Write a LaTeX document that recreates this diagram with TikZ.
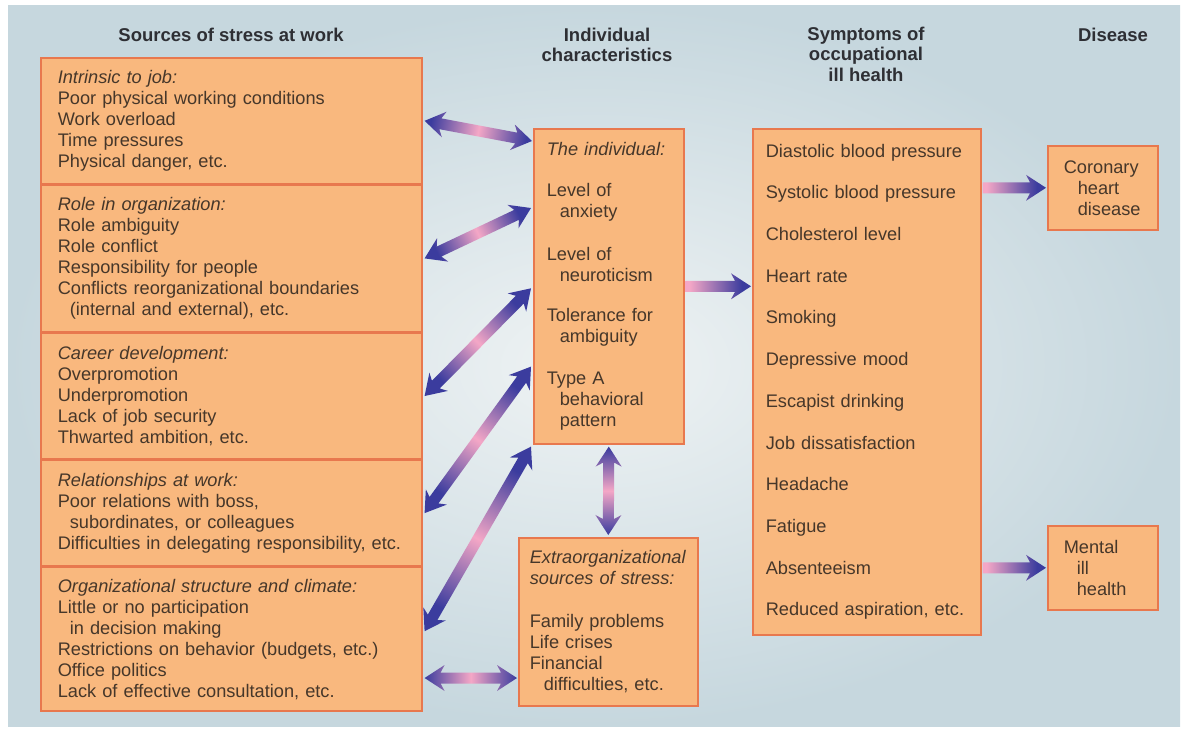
\documentclass[tikz,border=0pt]{standalone}
\usepackage{fontspec}
\setmainfont{Liberation Sans}
\usetikzlibrary{calc,positioning}
\definecolor{boxfill}{HTML}{F9B87E}
\definecolor{boxline}{HTML}{E8784E}
\definecolor{txt}{HTML}{46372A}
\definecolor{hdr}{HTML}{2E2F34}
\definecolor{bgout}{HTML}{C6D7DE}
\definecolor{bgin}{HTML}{EFF3F4}
\definecolor{arrblue}{HTML}{3B3C9E}
\definecolor{arrpink}{HTML}{F4A7C6}
\pgfdeclarehorizontalshading{dblshade}{100bp}{color(0bp)=(arrblue); color(25bp)=(arrblue); color(50bp)=(arrpink); color(75bp)=(arrblue); color(100bp)=(arrblue)}
\pgfdeclarehorizontalshading{sglshade}{100bp}{color(0bp)=(arrpink); color(28bp)=(arrpink); color(68bp)=(arrblue); color(100bp)=(arrblue)}
\tikzset{%
  srcbox/.style = {draw=boxline, fill=boxfill, line width=1.6pt, text=txt,
    align=left, inner xsep=17pt, inner ysep=0pt, text width=347pt,
    minimum width=381pt},
  colbox/.style = {draw=boxline, fill=boxfill, line width=1.6pt, text=txt,
    align=left, inner ysep=0pt, anchor=north west},
  heading/.style = {font=\fontsize{18.5}{20.5}\selectfont\bfseries, text=hdr,
    align=center, inner sep=0pt},
}
% shaded arrow with heads on both ends
\newcommand{\bothways}[2]{%
  \pgfmathanglebetweenpoints{\pgfpointanchor{#1}{center}}{\pgfpointanchor{#2}{center}}%
  \let\arrang\pgfmathresult
  \shade[shading=dblshade, shading angle=\arrang] (#1)
    -- ($(#1)!20pt!(#2)!13pt!90:(#2)$) -- ($(#1)!16pt!(#2)!5.5pt!90:(#2)$)
    -- ($(#2)!16pt!(#1)!5.5pt!-90:(#1)$) -- ($(#2)!20pt!(#1)!13pt!-90:(#1)$)
    -- (#2)
    -- ($(#2)!20pt!(#1)!13pt!90:(#1)$) -- ($(#2)!16pt!(#1)!5.5pt!90:(#1)$)
    -- ($(#1)!16pt!(#2)!5.5pt!-90:(#2)$) -- ($(#1)!20pt!(#2)!13pt!-90:(#2)$)
    -- cycle;}
% shaded arrow with one head
\newcommand{\oneway}[2]{%
  \shade[shading=sglshade] ($(#1)!5.5pt!90:(#2)$)
    -- ($(#2)!16pt!(#1)!5.5pt!-90:(#1)$) -- ($(#2)!20pt!(#1)!13pt!-90:(#1)$)
    -- (#2)
    -- ($(#2)!20pt!(#1)!13pt!90:(#1)$) -- ($(#2)!16pt!(#1)!5.5pt!90:(#1)$)
    -- ($(#1)!5.5pt!-90:(#2)$) -- cycle;}

\begin{document}
\begin{tikzpicture}[x=1pt, y=-1pt, every node/.style={font=\fontsize{18.2}{21}\selectfont}]
\useasboundingbox (0,0) rectangle (1188,729);
\shade[inner color=bgin, outer color=bgout] (8,5) rectangle (1180,726);
% column headings
\node[heading] (h1) at (231,35) {Sources of stress at work};
\node[heading] (h2) at (607,45) {Individual\\characteristics};
\node[heading] (h3) at (866,54) {Symptoms of\\occupational\\ill health};
\node[heading] (h4) at (1113,35) {Disease};
% sources of stress
\node[srcbox, minimum height=126pt, anchor=north west] (intr) at (40,57)
  {\textit{Intrinsic to job:}\\Poor physical working conditions\\Work overload\\
   Time pressures\\Physical danger, etc.};
\node[srcbox, minimum height=146pt, below=0pt of intr] (role)
  {\textit{Role in organization:}\\Role ambiguity\\Role conflict\\
   Responsibility for people\\Conflicts reorganizational boundaries\\
   \hspace*{12pt}(internal and external), etc.};
\node[srcbox, minimum height=126pt, below=0pt of role] (career)
  {\textit{Career development:}\\Overpromotion\\Underpromotion\\
   Lack of job security\\Thwarted ambition, etc.};
\node[srcbox, minimum height=105pt, below=0pt of career] (relat)
  {\textit{Relationships at work:}\\Poor relations with boss,\\
   \hspace*{12pt}subordinates, or colleagues\\
   Difficulties in delegating responsibility, etc.};
\node[srcbox, minimum height=144pt, below=0pt of relat] (orgst)
  {\textit{Organizational structure and climate:}\\Little or no participation\\
   \hspace*{12pt}in decision making\\Restrictions on behavior (budgets, etc.)\\
   Office politics\\Lack of effective consultation, etc.};
% individual and extraorganizational
\node[colbox, minimum width=150pt, minimum height=315pt, text width=124pt,
  inner xsep=13pt] (indiv) at (533,128)
  {\textit{The individual:}\\[20pt]Level of\\\hspace*{13pt}anxiety\\[22pt]
   Level of\\\hspace*{13pt}neuroticism\\[19pt]Tolerance for\\\hspace*{13pt}ambiguity\\[21pt]
   Type A\\\hspace*{13pt}behavioral\\\hspace*{13pt}pattern};
\node[colbox, minimum width=179pt, minimum height=168pt, text width=157pt,
  inner xsep=11pt] (extra) at (518,537)
  {\textit{Extraorganizational}\\\textit{sources of stress:}\\[22pt]
   Family problems\\Life crises\\Financial\\\hspace*{14pt}difficulties, etc.};
% symptoms
\node[colbox, minimum width=228pt, minimum height=506pt, text width=202pt,
  inner xsep=13pt, font=\fontsize{18.2}{41.7}\selectfont] (sympt) at (752,128)
  {Diastolic blood pressure\\Systolic blood pressure\\Cholesterol level\\
   Heart rate\\Smoking\\Depressive mood\\Escapist drinking\\Job dissatisfaction\\
   Headache\\Fatigue\\Absenteeism\\Reduced aspiration, etc.};
% disease
\node[colbox, minimum width=110pt, minimum height=84pt, text width=78pt,
  inner xsep=16pt] (coron) at (1047,145)
  {Coronary\\\hspace*{14pt}heart\\\hspace*{14pt}disease};
\node[colbox, minimum width=110pt, minimum height=84pt, text width=78pt,
  inner xsep=16pt] (mental) at (1047,525)
  {Mental\\\hspace*{13pt}ill\\\hspace*{13pt}health};
% arrow end points
\coordinate (p1) at ([xshift=2pt]intr.east);
\coordinate (q1) at ([xshift=-1pt,yshift=-13pt]indiv.north west);
\coordinate (p2) at ([xshift=2pt]role.east);
\coordinate (q2) at ([xshift=-2pt,yshift=-80pt]indiv.north west);
\coordinate (p3) at ([xshift=2pt]career.east);
\coordinate (q3) at ([xshift=-2pt,yshift=-2pt]indiv.west);
\coordinate (p4) at ([xshift=2pt]relat.east);
\coordinate (q4) at ([xshift=-2pt,yshift=78pt]indiv.south west);
\coordinate (p5) at ([xshift=2pt,yshift=8pt]orgst.east);
\coordinate (q5) at ([xshift=-2pt,yshift=-2pt]indiv.south west);
\coordinate (p6) at ([xshift=2pt,yshift=34pt]orgst.south east);
\coordinate (q6) at ([xshift=-1pt]extra.west |- p6);
\coordinate (p7) at ([yshift=-2pt]indiv.south);
\coordinate (q7) at ([yshift=2pt]extra.north);
\coordinate (p8) at ([xshift=1pt]indiv.east);
\coordinate (q8) at ([xshift=-1pt]sympt.west |- p8);
\coordinate (q9) at ([xshift=-1pt]coron.west);
\coordinate (p9) at ([xshift=1pt]sympt.east |- q9);
\coordinate (q10) at ([xshift=-1pt]mental.west);
\coordinate (p10) at ([xshift=1pt]sympt.east |- q10);
% arrows
\foreach \i in {1,...,7} {\bothways{p\i}{q\i}}
\foreach \i in {8,9,10} {\oneway{p\i}{q\i}}
\end{tikzpicture}
\end{document}
